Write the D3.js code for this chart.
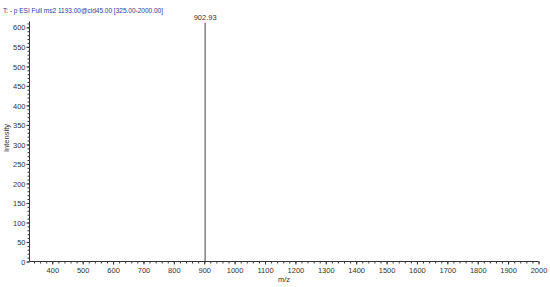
<!DOCTYPE html>
<html>
<head>
<meta charset="utf-8">
<script src="https://cdn.jsdelivr.net/npm/d3@7"></script>
<style>
  body { margin: 0; background: #fff; }
  svg { display: block; }
  text { font-family: "Liberation Sans Narrow", "Liberation Sans", Arial, sans-serif; }
</style>
</head>
<body>
<div id="chart"></div>
<script>
// spectrum data
const mzValues = [902.93];
const intensities = [612];
const peakLabels = ["902.93"];
const xTicks = [400, 500, 600, 700, 800, 900, 1000, 1100, 1200, 1300, 1400, 1500, 1600, 1700, 1800, 1900, 2000];
const yTicks = [0, 50, 100, 150, 200, 250, 300, 350, 400, 450, 500, 550, 600];
const title = "T: - p ESI Full ms2 1193.00@cid45.00 [325.00-2000.00]";

const width = 550, height = 287;
const svg = d3.select("#chart").append("svg")
  .attr("width", width)
  .attr("height", height);

const x = d3.scaleLinear([325, 2000], [29.5, 538.5]);
const y = d3.scaleLinear([0, 615], [261.5, 21.5]);

svg.append("text")
  .attr("x", 3).attr("y", 13)
  .attr("fill", "#2b3a9a")
  .attr("font-size", "8px")
  .attr("textLength", 160)
  .attr("lengthAdjust", "spacingAndGlyphs")
  .text(title);

// minor ticks
const gx = svg.append("g").attr("transform", `translate(0,${y(0)})`);
gx.call(d3.axisBottom(x).tickValues(d3.range(340, 2001, 20)).tickSize(2).tickFormat(""));
gx.call(g => g.select(".domain").remove());
const gxMaj = svg.append("g").attr("transform", `translate(0,${y(0)})`)
  .call(d3.axisBottom(x).tickValues(xTicks).tickSize(3).tickPadding(2).tickFormat(d3.format("d")));
gxMaj.select(".domain").attr("d", `M${x(325)},0H${x(2000)}`);

const gy = svg.append("g").attr("transform", `translate(${x(325)},0)`);
gy.call(d3.axisLeft(y).tickValues(d3.range(0, 611, 10)).tickSize(2).tickFormat(""));
gy.call(g => g.select(".domain").remove());
const gyMaj = svg.append("g").attr("transform", `translate(${x(325)},0)`)
  .call(d3.axisLeft(y).tickValues(yTicks).tickSize(3).tickPadding(1).tickFormat(d3.format("d")));
gyMaj.select(".domain").attr("d", `M0,${y(0)}V${y(615)}`);

svg.selectAll(".tick line").attr("stroke", "#333");
svg.selectAll(".domain").attr("stroke", "#333");
svg.selectAll(".tick text").attr("font-size", "7.5px").attr("fill", "#333");
gxMaj.selectAll(".tick text").attr("dy", "0.9em");
gyMaj.selectAll(".tick text").attr("dy", "0.35em");

// peaks
svg.selectAll("line.peak")
  .data(mzValues)
  .enter()
  .append("line")
  .attr("class", "peak")
  .attr("x1", d => x(d)).attr("x2", d => x(d))
  .attr("y1", y(0))
  .attr("y2", (d, i) => y(intensities[i]))
  .attr("stroke", "#444")
  .attr("stroke-width", 1);

svg.selectAll("text.plabel")
  .data(mzValues)
  .enter()
  .append("text")
  .attr("class", "plabel")
  .attr("x", d => x(d))
  .attr("y", (d, i) => y(intensities[i]) - 3)
  .attr("text-anchor", "middle")
  .attr("font-size", "7.5px")
  .attr("fill", "#333")
  .text((d, i) => peakLabels[i]);

svg.append("text")
  .attr("x", 284).attr("y", 282)
  .attr("text-anchor", "middle")
  .attr("font-size", "7.5px")
  .attr("fill", "#333")
  .text("m/z");

svg.append("text")
  .attr("transform", "translate(9,138) rotate(-90)")
  .attr("text-anchor", "middle")
  .attr("font-size", "7.5px")
  .attr("fill", "#333")
  .text("Intensity");
</script>
</body>
</html>
